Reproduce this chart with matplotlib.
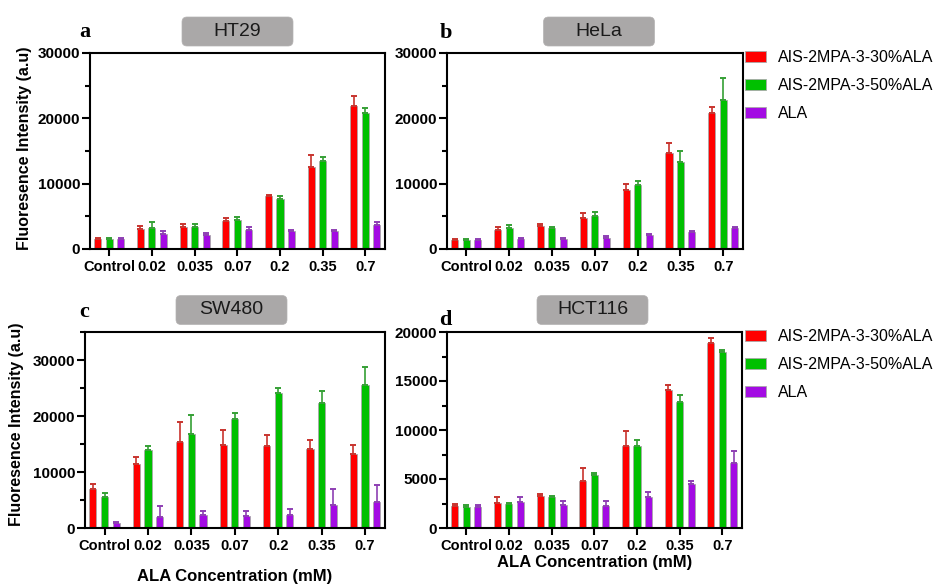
import matplotlib
matplotlib.use("Agg")
import matplotlib.pyplot as plt
import numpy as np
from matplotlib.patches import FancyBboxPatch, Patch
from matplotlib.transforms import IdentityTransform
from matplotlib.ticker import MultipleLocator

plt.rcParams['font.family'] = ['Liberation Sans', 'DejaVu Sans']

# ---- data -------------------------------------------------------------
concentrations = ["Control", "0.02", "0.035", "0.07", "0.2", "0.35", "0.7"]
series_names = ["AIS-2MPA-3-30%ALA", "AIS-2MPA-3-50%ALA", "ALA"]

ht29_30 = [1600, 3000, 3400, 4350, 8050, 12500, 21900]
ht29_30_sd = [150, 450, 500, 350, 150, 1900, 1500]
ht29_50 = [1600, 3150, 3400, 4480, 7680, 13500, 20760]
ht29_50_sd = [120, 1050, 400, 460, 360, 650, 840]
ht29_ala = [1600, 2340, 2090, 2900, 2750, 2750, 3700]
ht29_ala_sd = [120, 360, 410, 460, 200, 200, 370]

hela_30 = [1330, 2900, 3570, 4750, 9080, 14700, 20800]
hela_30_sd = [170, 400, 330, 750, 870, 1500, 900]
hela_50 = [1330, 3160, 3160, 5100, 9800, 13370, 22860]
hela_50_sd = [170, 540, 140, 500, 560, 1580, 3340]
hela_ala = [1330, 1580, 1580, 1730, 2100, 2550, 3160]
hela_ala_sd = [170, 120, 120, 270, 150, 150, 210]

sw480_30 = [6880, 11500, 15400, 14800, 14600, 14100, 13200]
sw480_30_sd = [1020, 1100, 3600, 2700, 2000, 1700, 1560]
sw480_50 = [5450, 14000, 16800, 19500, 24100, 22300, 25500]
sw480_50_sd = [830, 600, 3350, 1000, 900, 2200, 3300]
sw480_ala = [830, 1900, 2250, 2070, 2250, 4150, 4570]
sw480_ala_sd = [270, 2100, 850, 1030, 1190, 2750, 3030]

hct116_30 = [2200, 2530, 3310, 4830, 8340, 14050, 18900]
hct116_30_sd = [230, 670, 140, 1250, 1520, 510, 500]
hct116_50 = [2100, 2470, 3200, 5370, 8340, 12840, 17940]
hct116_50_sd = [230, 100, 80, 270, 660, 760, 260]
hct116_ala = [2100, 2640, 2360, 2260, 3200, 4530, 6590]
hct116_ala_sd = [230, 540, 410, 480, 480, 230, 1250]

cell_lines = ["HT29", "HeLa", "SW480", "HCT116"]
panel_letters = ["a", "b", "c", "d"]

# ---- styling ----------------------------------------------------------
W, H = 941, 584
bar_colors = ["#ff0000", "#00c000", "#a30be3"]
err_colors = ["#c8342e", "#35a035", "#8e3fb3"]
edge_color = "#a9a9a9"
bar_w = 0.165
offsets = [-0.268, 0.0, 0.268]

fig = plt.figure(figsize=(W / 100, H / 100), dpi=100)


def frac_rect(left, right, top, bottom):
    return [left / W, 1 - bottom / H, (right - left) / W, (bottom - top) / H]


panels = [
    dict(rect=frac_rect(90, 385, 53, 249), ymax=30000, major=10000, minor=5000,
         data=[(ht29_30, ht29_30_sd), (ht29_50, ht29_50_sd), (ht29_ala, ht29_ala_sd)],
         box=(237.5, 31.5), letter=(79, 37), ylabel=(25, 148), xlabel=None),
    dict(rect=frac_rect(447, 743, 53, 249), ymax=30000, major=10000, minor=5000,
         data=[(hela_30, hela_30_sd), (hela_50, hela_50_sd), (hela_ala, hela_ala_sd)],
         box=(599, 31.5), letter=(440, 38), ylabel=None, xlabel=None),
    dict(rect=frac_rect(85, 385, 332, 528), ymax=35000, major=10000, minor=5000,
         data=[(sw480_30, sw480_30_sd), (sw480_50, sw480_50_sd), (sw480_ala, sw480_ala_sd)],
         box=(231.5, 310), letter=(79, 317), ylabel=(17, 424), xlabel=(235, 577)),
    dict(rect=frac_rect(447, 742, 332, 528), ymax=20000, major=5000, minor=2500,
         data=[(hct116_30, hct116_30_sd), (hct116_50, hct116_50_sd), (hct116_ala, hct116_ala_sd)],
         box=(592.5, 310), letter=(439, 325), ylabel=None, xlabel=(595, 562)),
]

x = np.arange(len(concentrations))

for i, p in enumerate(panels):
    ax = fig.add_axes(p["rect"])
    for k, (means, sds) in enumerate(p["data"]):
        ax.bar(x + offsets[k], means, bar_w, color=bar_colors[k],
               edgecolor=edge_color, linewidth=0.6,
               yerr=[np.zeros(len(sds)), sds],
               error_kw=dict(ecolor=err_colors[k], elinewidth=1.2,
                             capsize=2.2, capthick=1.4),
               label=series_names[k], zorder=2)
    ax.set_xlim(-0.45, 6.46)
    ax.set_ylim(0, p["ymax"])
    ax.yaxis.set_major_locator(MultipleLocator(p["major"]))
    ax.yaxis.set_minor_locator(MultipleLocator(p["minor"]))
    ax.set_xticks(x)
    ax.set_xticklabels(concentrations, fontsize=10.5, fontweight="bold")
    for lab in ax.get_yticklabels():
        lab.set_fontsize(11)
        lab.set_fontweight("bold")
    for sp in ax.spines.values():
        sp.set_linewidth(1.5)
    ax.tick_params(axis="y", which="major", length=6, width=1.5, pad=1)
    ax.tick_params(axis="y", which="minor", length=3.5, width=1.5)
    ax.tick_params(axis="x", which="major", length=5, width=1.5, pad=3)

    # cell-line title tag
    cx, cy = p["box"]
    bw, bh = 111, 29
    tag = FancyBboxPatch((cx - bw / 2, H - cy - bh / 2), bw, bh,
                         boxstyle="round,pad=0,rounding_size=5",
                         facecolor="#aaa8a8", edgecolor="#b4b2b2", linewidth=0.5,
                         transform=IdentityTransform())
    fig.patches.append(tag)
    fig.text(cx / W, 1 - cy / H, cell_lines[i], ha="center", va="center",
             fontsize=14, color="#1a1a1a")

    lx, ly = p["letter"]
    fig.text(lx / W, 1 - ly / H, panel_letters[i], ha="left", va="baseline",
             fontsize=16, fontweight="bold", family="Liberation Serif")

    if p["ylabel"] is not None:
        yx, yy = p["ylabel"]
        fig.text(yx / W, 1 - yy / H, "Fluoresence Intensity (a.u)", rotation=90,
                 ha="center", va="center", fontsize=11.5, fontweight="bold")
    if p["xlabel"] is not None:
        xx, xy = p["xlabel"]
        fig.text(xx / W, 1 - xy / H, "ALA Concentration (mM)", ha="center",
                 va="center", fontsize=12, fontweight="bold")

    if i in (1, 3):
        handles = [Patch(facecolor=bar_colors[k], edgecolor=edge_color, linewidth=0.6)
                   for k in range(3)]
        top = 50 if i == 1 else 329
        ax.legend(handles, series_names, loc="upper left",
                  bbox_to_anchor=(745 / W, 1 - top / H), bbox_transform=fig.transFigure,
                  frameon=False, fontsize=11.5, handlelength=1.3, handleheight=0.65,
                  handletextpad=0.75, labelspacing=0.82, borderpad=0, borderaxespad=0)

fig.savefig("out.png", dpi=100)
